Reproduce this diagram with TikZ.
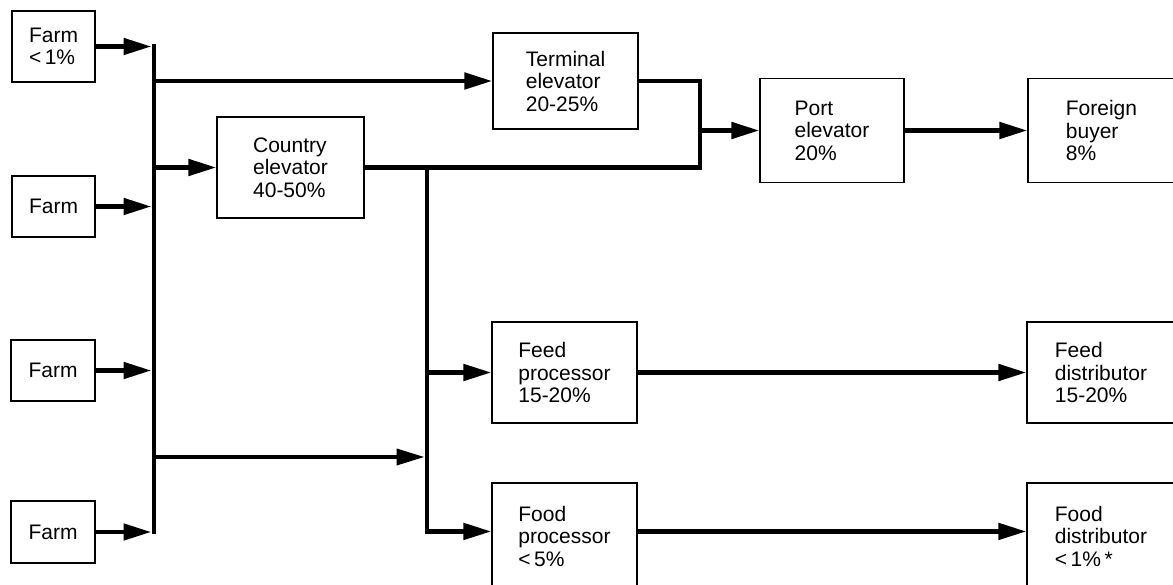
\documentclass[tikz,border=0pt]{standalone}
\usepackage{fontspec}
\setmainfont{Liberation Sans}
\usetikzlibrary{arrows.meta}
\begin{document}
\begin{tikzpicture}[x=1pt,y=-1pt,
  box/.style={draw, line width=1.1pt, rectangle, align=left, inner sep=0pt,
    font=\fontsize{21}{22.5}\selectfont},
  flow/.style={line width=4.8pt, line join=miter},
  arr/.style={flow, -{Triangle[length=28pt,width=16pt]}},
]
\useasboundingbox (0,0) rectangle (1173,585);
\clip (0,0) rectangle (1173,585);
% boxes
\node[box, minimum width=83pt, minimum height=71pt] (farm1) at (53.5,46.5) {Farm\\<\,1\%};
\node[box, minimum width=83pt, minimum height=61pt] (farm2) at (53.5,206.5) {Farm};
\node[box, minimum width=84pt, minimum height=61pt] (farm3) at (53,370.5) {Farm};
\node[box, minimum width=84pt, minimum height=62pt] (farm4) at (53,532) {Farm};
\node[box, minimum width=145pt, minimum height=96pt] (terminal) at (565.5,81) {Terminal\\elevator\\20-25\%};
\node[box, minimum width=147pt, minimum height=101pt] (country) at (290.5,167.5) {Country\\elevator\\40-50\%};
\node[box, minimum width=144pt, minimum height=104pt] (port) at (832,130.5) {Port\\elevator\\20\%};
\node[box, minimum width=147pt, minimum height=104pt] (foreign) at (1101.5,130.5) {Foreign\\buyer\\8\%};
\node[box, minimum width=145pt, minimum height=101pt] (feedproc) at (564.5,372.5) {Feed\\processor\\15-20\%};
\node[box, minimum width=145pt, minimum height=106pt] (foodproc) at (564.5,536) {Food\\processor\\<\,5\%};
\node[box, minimum width=148pt, minimum height=101pt] (feeddist) at (1101,372.5) {Feed\\distributor\\15-20\%};
\node[box, minimum width=148pt, minimum height=106pt] (fooddist) at (1101,536) {Food\\distributor\\<\,1\%\,*};
% helper coordinates
\coordinate (busc) at (154,0);
\coordinate (busx) at (151.5,0);
\coordinate (cvc) at (427,0);
\coordinate (cvx) at (424.5,0);
\coordinate (mid) at (0,457);
\coordinate (pj) at (700,0);
\coordinate (foodin) at ([yshift=-49pt]foodproc.north west);
\coordinate (foodout) at ([yshift=-49pt]foodproc.north east);
\coordinate (fooddin) at ([yshift=-49pt]fooddist.north west);
% farm arrows and bus
\draw[arr] (farm1.east) -- (farm1.east -| busx);
\draw[arr] (farm2.east) -- (farm2.east -| busx);
\draw[arr] (farm3.east) -- (farm3.east -| busx);
\draw[arr] (farm4.east) -- (farm4.east -| busx);
\draw[flow, line cap=rect] (farm1.east -| busc) -- (farm4.east -| busc);
% from bus
\draw[arr] (terminal.west -| busc) -- (terminal.west);
\draw[arr] (country.west -| busc) -- (country.west);
\draw[arr, line width=3.8pt] (busc |- mid) -- (cvx |- mid);
% country / terminal to port
\draw[flow] (country.east) -- (country.east -| pj) -- (terminal.east -| pj) -- (terminal.east);
\draw[arr] (port.west -| pj) -- (port.west);
\draw[arr] (port.east) -- (foreign.west);
% country down to processors
\draw[arr] (country.east -| cvc) -- (cvc |- foodin) -- (foodin);
\draw[arr] (feedproc.west -| cvc) -- (feedproc.west);
\draw[arr] (feedproc.east) -- (feeddist.west);
\draw[arr] (foodout) -- (fooddin);
\end{tikzpicture}
\end{document}
